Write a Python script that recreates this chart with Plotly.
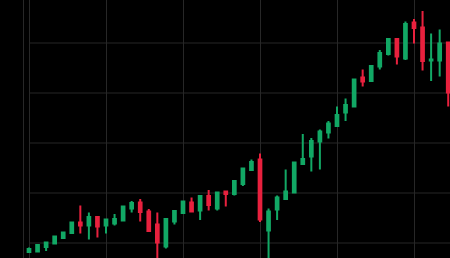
import plotly.graph_objects as go

idx = list(range(50))
opens = [98.2, 98.3, 99.2, 99.9, 101.0, 102.0, 104.1, 103.5, 105.2, 103.5,
         103.9, 104.5, 106.9, 108.1, 106.3, 103.7, 99.3, 104.3, 106.0, 108.1,
         106.5, 109.4, 106.9, 110.3, 109.8, 111.8, 114.6, 116.7, 102.5, 106.7,
         108.8, 110.1, 115.8, 117.3, 120.3, 122.1, 123.4, 126.1, 127.3, 133.1,
         132.4, 135.3, 137.8, 140.8, 136.9, 144.1, 143.1, 136.5, 136.5, 140.1]
highs = [99.1, 99.8, 100.2, 101.4, 102.2, 104.2, 107.5, 106.1, 105.3, 104.9,
         105.8, 107.4, 108.4, 108.8, 106.8, 106.1, 104.9, 106.5, 108.4, 109.1,
         109.5, 110.6, 110.2, 110.4, 112.5, 115.0, 116.7, 117.9, 106.9, 109.5,
         114.7, 116.2, 121.8, 121.0, 122.7, 124.4, 127.3, 128.9, 132.9, 134.7,
         135.5, 138.6, 140.9, 140.9, 144.3, 144.8, 146.4, 141.9, 142.7, 140.2]
lows = [98.0, 98.1, 98.4, 99.8, 100.9, 101.9, 101.9, 100.7, 101.1, 101.9,
        103.5, 104.3, 106.1, 104.3, 102.2, 96.2, 98.9, 103.7, 105.8, 106.1,
        104.6, 106.5, 106.5, 107.3, 109.5, 111.4, 114.5, 104.2, 96.2, 104.6,
        108.6, 110.0, 115.7, 114.3, 114.7, 120.9, 123.3, 124.4, 127.1, 131.3,
        132.3, 134.7, 137.5, 135.7, 136.6, 139.9, 134.5, 132.4, 133.3, 127.3]
closes = [98.8, 99.6, 100.1, 101.3, 102.1, 104.1, 103.5, 105.2, 103.3, 104.7,
          104.8, 107.3, 108.0, 106.2, 102.4, 100.1, 104.8, 106.4, 108.3, 106.3,
          109.4, 107.6, 110.1, 109.8, 112.4, 114.9, 116.2, 104.7, 106.3, 109.1,
          110.3, 116.1, 116.8, 120.4, 122.3, 123.9, 125.6, 127.6, 132.7, 132.3,
          135.4, 138.0, 140.8, 137.3, 143.8, 143.0, 136.4, 136.7, 139.9, 130.1]
y_grid = [100, 110, 120, 130, 140]

UP = "#12a865"
DOWN = "#e8213e"
GRID = "#272727"

fig = go.Figure(go.Candlestick(
    x=idx, open=opens, high=highs, low=lows, close=closes,
    increasing=dict(line=dict(color=UP, width=2), fillcolor=UP),
    decreasing=dict(line=dict(color=DOWN, width=2), fillcolor=DOWN),
    whiskerwidth=0,
))

x0 = -5 / 8.5556
x1 = x0 + 426 / 8.5556
for v in y_grid:
    fig.add_shape(type="line", xref="x", yref="y", x0=idx[0], x1=x1 + 1,
                  y0=v, y1=v, line=dict(color=GRID, width=1), layer="below")

fig.update_layout(
    width=450, height=258,
    margin=dict(l=0, r=0, t=0, b=0),
    paper_bgcolor="#000000", plot_bgcolor="#000000",
    showlegend=False,
    boxgap=0.55,
    xaxis=dict(domain=[24 / 450, 1], range=[x0, x1], tick0=0, dtick=9,
               showgrid=True, gridcolor=GRID, gridwidth=1, zeroline=False,
               showticklabels=False, ticks="", rangeslider=dict(visible=False),
               showline=False),
    yaxis=dict(range=[97.0, 148.6], showgrid=False, zeroline=False,
               showticklabels=False, ticks="", showline=True,
               linecolor=GRID, linewidth=1),
)

fig.write_html("out.html")
